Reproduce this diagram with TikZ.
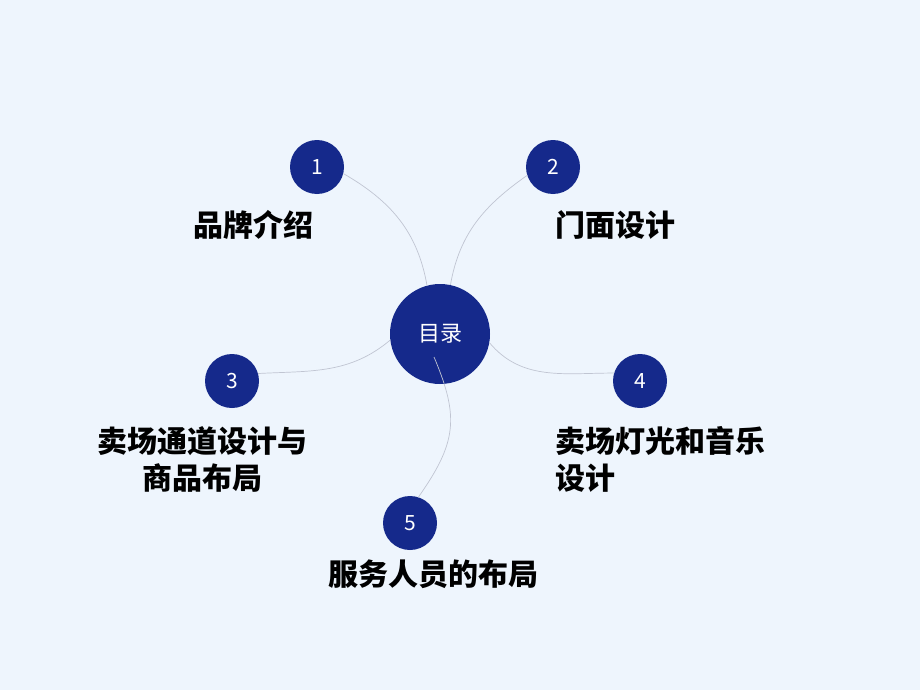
\documentclass[tikz,border=0pt]{standalone}
\usepackage{fontspec}
\newfontfamily\cjk{Noto Sans CJK SC}
\definecolor{bg}{RGB}{238,245,253}
\definecolor{navy}{RGB}{21,41,139}
\definecolor{lnk}{RGB}{192,197,210}
\begin{document}
\begin{tikzpicture}[x=1pt,y=-1pt,
 numc/.style={circle,fill=navy,minimum size=54pt,inner sep=0pt,text=white,font=\cjk\fontsize{21}{21}\selectfont},
 hub/.style={circle,fill=navy,minimum size=100pt,inner sep=0pt,text=white,font=\cjk\fontsize{22}{22}\selectfont},
 lbl/.style={inner sep=0pt,font=\cjk\bfseries\fontsize{30}{37}\selectfont,text=black},
 link/.style={draw=lnk,line width=0.7pt}]
\fill[bg] (0,0) rectangle (920,690);
\useasboundingbox (0,0) rectangle (920,690);
% nodes
\node[hub] (c) at (440,334) {目录};
\node[numc] (n1) at (317,167) {1};
\node[numc] (n2) at (553,167) {2};
\node[numc] (n3) at (232,381) {3};
\node[numc] (n4) at (640,381) {4};
\node[numc] (n5) at (410,523) {5};
\coordinate (s5) at (434,357);
% labels
\node[lbl] (t1) at (253,225) {品牌介绍};
\node[lbl,anchor=west] (t2) at (555,225) {门面设计};
\node[lbl,align=center] (t3) at (202.5,459.5) {卖场通道设计与\\商品布局};
\node[lbl,align=left,anchor=west] (t4) at (555,459.5) {卖场灯光和音乐\\设计};
\node[lbl] (t5) at (433,574) {服务人员的布局};
% connectors
\draw[link] (n1.-14) to[out=-30,in=100] (c.105);
\draw[link] (n2.198) to[out=215,in=80] (c.78);
\draw[link] (n3.16) to[out=3,in=220] (c.187);
\draw[link] (c.-10) to[out=-50,in=180] (n4.163);
\draw[link] (s5) to[out=-67,in=55,looseness=1.2] (n5.72);
\end{tikzpicture}
\end{document}
